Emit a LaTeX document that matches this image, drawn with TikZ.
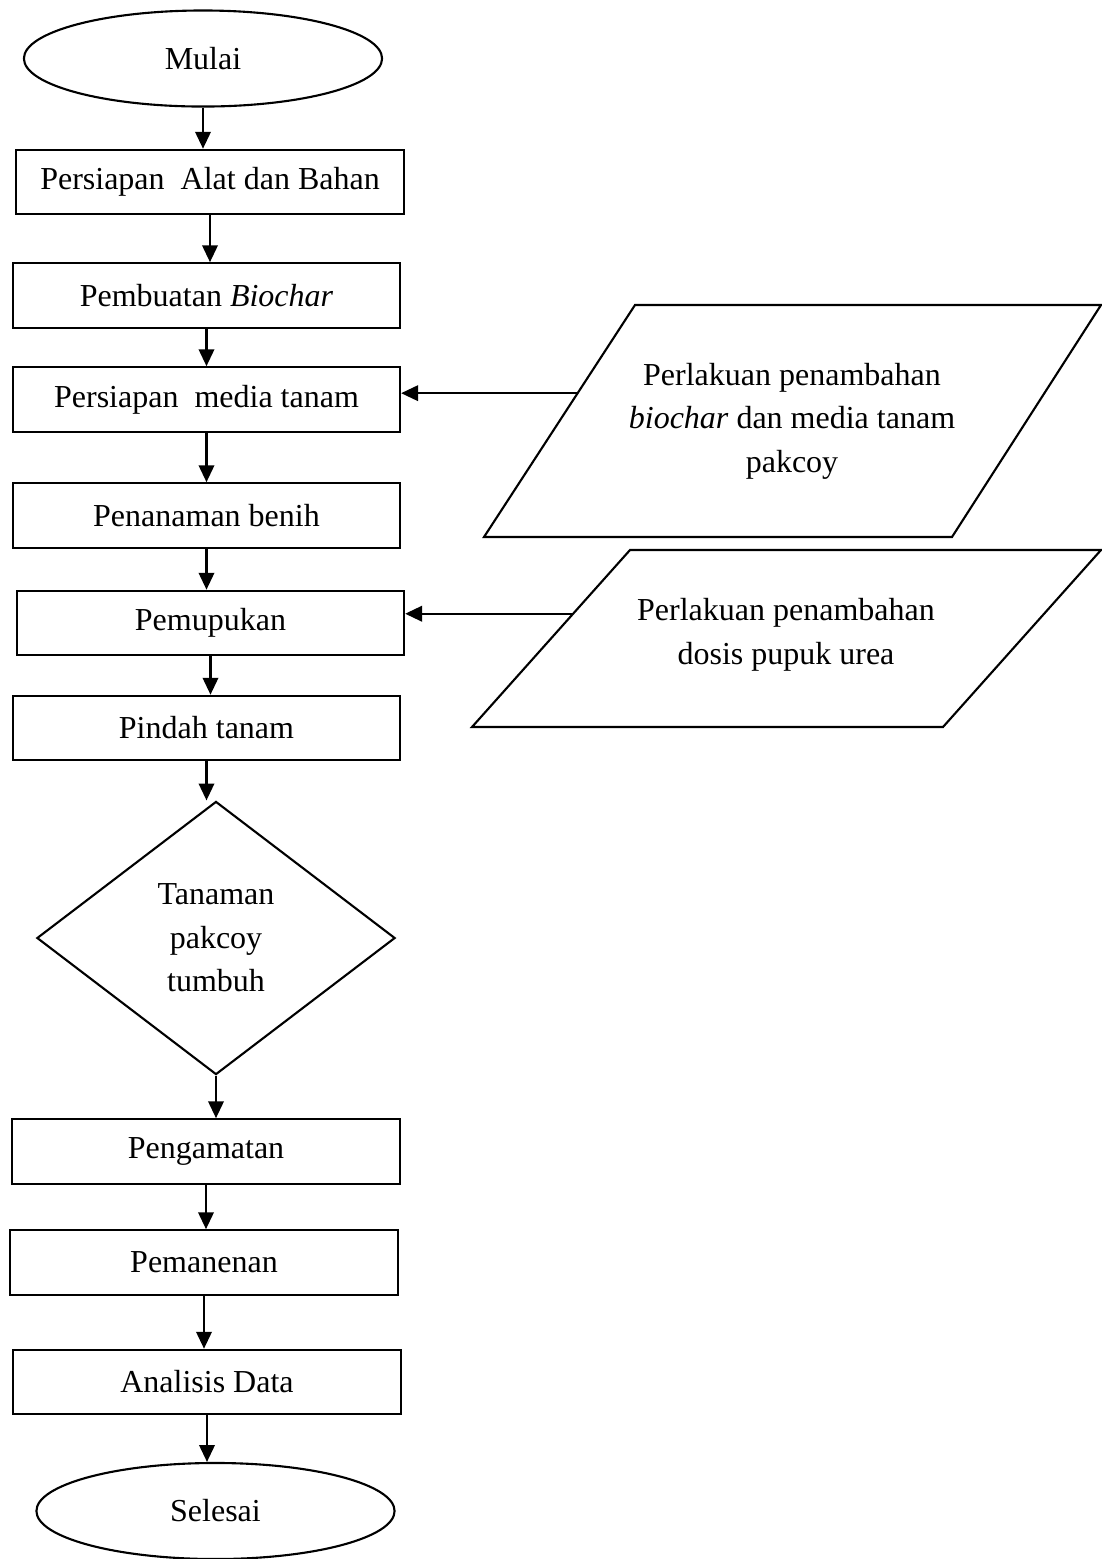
\documentclass[tikz,border=0pt]{standalone}
\usepackage{fontspec}
\setmainfont{Liberation Serif}
\usetikzlibrary{shapes.geometric, arrows.meta, calc}

\tikzset{
  procbox/.style={draw, line width=0.6pt, minimum width=3.87cm, minimum height=0.645cm, inner sep=0pt},
  terminal/.style={draw, ellipse, line width=0.6pt, minimum width=3.58cm, minimum height=0.96cm, inner sep=0pt},
  decision/.style={draw, diamond, line width=0.6pt, minimum width=3.58cm, minimum height=2.73cm, inner sep=0pt, align=center},
  treatment/.style={line width=0.6pt},
  flow/.style={line width=0.6pt, -{Triangle[length=4.8pt, width=4.4pt]}}
}

\begin{document}
\begin{tikzpicture}[x=0.01cm, y=-0.01cm, font=\fontsize{9.1}{12.4}\selectfont]
\useasboundingbox (0,0) rectangle (1102,1559);
\node[terminal] (start) at (203,58.5) {Mulai};
\node[procbox] (tools) at (210,182) {Persiapan\ \ Alat dan Bahan};
\node[procbox] (biochar) at (206.5,295.5) {Pembuatan \textit{Biochar}};
\node[procbox] (media) at (206.5,399.5) {Persiapan\ \ media tanam};
\node[procbox] (seed) at (206.5,515.5) {Penanaman benih};
\node[procbox] (fert) at (210.5,623) {Pemupukan};
\node[procbox] (transp) at (206.5,728) {Pindah tanam};
\node[decision] (grow) at (216,938) {Tanaman\\pakcoy\\tumbuh};
\node[procbox] (observe) at (206,1151.5) {Pengamatan};
\node[procbox] (harvest) at (204,1262.5) {Pemanenan};
\node[procbox] (analysis) at (207,1382) {Analisis Data};
\node[terminal] (finish) at (215.5,1511) {Selesai};

\coordinate (bio1) at (484,537);
\coordinate (bio2) at (635,305);
\coordinate (bio3) at (1101,305);
\coordinate (bio4) at (952,537);
\draw[treatment] (bio1) -- (bio2) -- (bio3) -- (bio4) -- cycle;
\node[align=center] (biotreat) at (792,421)
  {Perlakuan penambahan\\\textit{biochar} dan media tanam\\pakcoy};

\coordinate (urea1) at (472,727);
\coordinate (urea2) at (630,550);
\coordinate (urea3) at (1101,550);
\coordinate (urea4) at (943,727);
\draw[treatment] (urea1) -- (urea2) -- (urea3) -- (urea4) -- cycle;
\node[align=center] (ureatreat) at (786,635)
  {Perlakuan penambahan\\dosis pupuk urea};

\draw[flow] (start.south) -- (start.south |- tools.north);
\draw[flow] (tools.south) -- (tools.south |- biochar.north);
\draw[flow] (biochar.south) -- (biochar.south |- media.north);
\draw[flow] (media.south) -- (media.south |- seed.north);
\draw[flow] (seed.south) -- (seed.south |- fert.north);
\draw[flow] (fert.south) -- (fert.south |- transp.north);
\draw[flow] (transp.south) -- (transp.south |- grow.north);
\draw[flow] (grow.south) -- (grow.south |- observe.north);
\draw[flow] (observe.south) -- (observe.south |- harvest.north);
\draw[flow] (harvest.south) -- (harvest.south |- analysis.north);
\draw[flow] (analysis.south) -- (analysis.south |- finish.north);

\coordinate (bioin) at ($(bio1)!0.62!(bio2)$);
\coordinate (ureain) at ($(urea1)!0.64!(urea2)$);
\draw[flow] (bioin) -- (bioin -| media.east);
\draw[flow] (ureain) -- (ureain -| fert.east);
\end{tikzpicture}
\end{document}
